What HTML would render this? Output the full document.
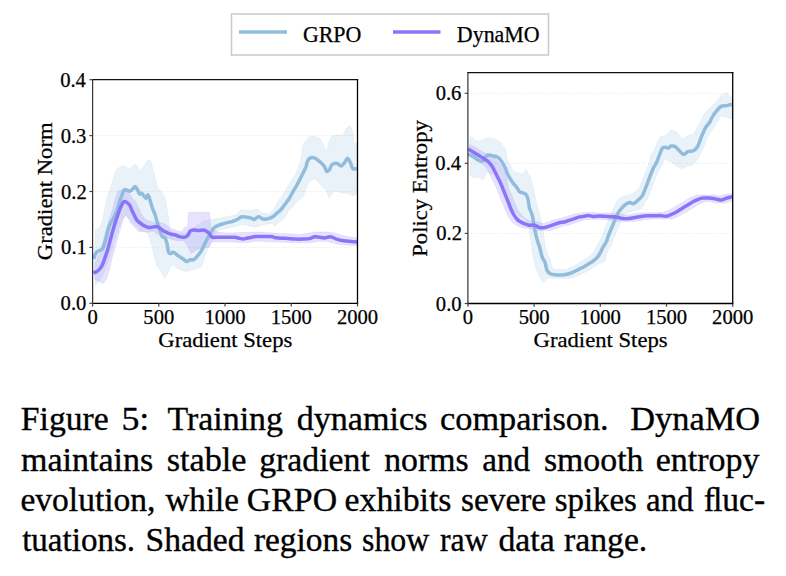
<!DOCTYPE html>
<html><head><meta charset="utf-8"><style>
html,body{margin:0;padding:0;background:#fff;}
body{width:786px;height:576px;position:relative;overflow:hidden;}
svg{position:absolute;left:0;top:0;}
.t{font-family:"Liberation Serif",serif;fill:#000;}
.c{stroke:#000;stroke-width:0.35px;}
.c2{stroke:#000;stroke-width:0.25px;}
</style></head><body>
<svg width="786" height="576" viewBox="0 0 786 576">
<rect x="231.5" y="14" width="317" height="41" fill="#fff" stroke="#cccccc" stroke-width="1.6"/>
<line x1="239" y1="32" x2="287" y2="32" stroke="#91bcdc" stroke-width="3.5"/>
<text x="302.90" y="41.80" font-size="22.6" textLength="58.50" lengthAdjust="spacingAndGlyphs" class="t c2">GRPO</text>
<line x1="393" y1="32" x2="440.5" y2="32" stroke="#8974fa" stroke-width="3.5"/>
<text x="456.87" y="41.80" font-size="22.6" textLength="82.83" lengthAdjust="spacingAndGlyphs" class="t c2">DynaMO</text>
<clipPath id="cl"><rect x="92.6" y="79.7" width="264.9" height="223.60000000000002"/></clipPath>
<line x1="92.6" y1="247.40" x2="357.5" y2="247.40" stroke="#e8e8e8" stroke-width="1" stroke-dasharray="1.2,1.8"/>
<line x1="92.6" y1="191.50" x2="357.5" y2="191.50" stroke="#e8e8e8" stroke-width="1" stroke-dasharray="1.2,1.8"/>
<line x1="92.6" y1="135.60" x2="357.5" y2="135.60" stroke="#e8e8e8" stroke-width="1" stroke-dasharray="1.2,1.8"/>
<g clip-path="url(#cl)">
<path d="M95.2,230.1 L96.2,229.6 L97.2,229.1 L98.2,228.6 L99.2,228.1 L100.2,225.6 L101.2,222.9 L102.2,220.2 L103.2,216.7 L104.2,211.5 L105.2,206.2 L106.2,201.0 L107.2,197.1 L108.2,194.0 L109.2,191.0 L110.2,188.0 L111.2,184.9 L112.2,181.9 L113.2,178.9 L114.2,176.0 L115.2,173.0 L116.2,170.0 L117.2,169.0 L118.2,168.2 L119.2,167.4 L120.2,166.8 L121.2,166.6 L122.2,166.5 L123.2,166.3 L124.2,166.2 L125.2,166.4 L126.2,167.1 L127.2,167.9 L128.2,168.6 L129.2,169.3 L130.2,169.1 L131.2,168.0 L132.2,166.9 L133.2,165.8 L134.2,164.7 L135.2,164.5 L136.2,164.7 L137.2,165.5 L138.2,168.5 L139.2,171.6 L140.2,171.1 L141.2,169.8 L142.2,168.4 L143.2,167.0 L144.2,165.3 L145.2,163.7 L146.2,162.0 L147.2,161.0 L148.2,160.7 L149.2,160.4 L150.2,160.0 L151.2,163.0 L152.2,166.3 L153.2,169.6 L154.2,173.1 L155.2,177.8 L156.2,182.5 L157.2,187.1 L158.2,189.1 L159.2,189.1 L160.2,189.7 L161.2,191.2 L162.2,192.7 L163.2,194.2 L164.2,195.7 L165.2,199.1 L166.2,204.4 L167.2,209.6 L168.2,214.9 L169.2,225.6 L170.2,230.8 L171.2,231.3 L172.2,231.8 L173.2,232.3 L174.2,232.8 L175.2,232.9 L176.2,232.9 L177.2,232.9 L178.2,232.9 L179.2,232.9 L180.2,232.9 L181.2,232.9 L182.2,232.9 L183.2,232.9 L184.2,232.9 L185.2,232.9 L186.2,232.9 L187.2,232.5 L188.2,231.8 L189.2,231.0 L190.2,230.3 L191.2,229.6 L192.2,228.9 L193.2,228.2 L194.2,227.5 L195.2,226.8 L196.2,226.1 L197.2,225.4 L198.2,224.6 L199.2,223.9 L200.2,223.2 L201.2,222.5 L202.2,221.8 L203.2,221.1 L204.2,220.7 L205.2,220.5 L206.2,220.4 L207.2,220.2 L208.2,220.0 L209.2,219.9 L210.2,219.7 L211.2,219.6 L212.2,219.4 L213.2,219.3 L214.2,219.1 L215.2,219.0 L216.2,218.8 L217.2,218.6 L218.2,218.4 L219.2,218.2 L220.2,218.0 L221.2,217.8 L222.2,217.6 L223.2,217.4 L224.2,217.2 L225.2,217.0 L226.2,216.8 L227.2,216.6 L228.2,216.4 L229.2,216.2 L230.2,216.0 L231.2,215.8 L232.2,215.6 L233.2,215.4 L234.2,215.2 L235.2,215.0 L236.2,214.7 L237.2,214.1 L238.2,213.3 L239.2,211.9 L240.2,210.5 L241.2,209.7 L242.2,209.8 L243.2,209.9 L244.2,210.0 L245.2,210.0 L246.2,210.1 L247.2,210.2 L248.2,210.3 L249.2,210.4 L250.2,210.4 L251.2,210.5 L252.2,210.6 L253.2,210.3 L254.2,210.0 L255.2,209.6 L256.2,209.3 L257.2,209.0 L258.2,209.4 L259.2,210.5 L260.2,211.6 L261.2,212.7 L262.2,212.9 L263.2,213.0 L264.2,213.2 L265.2,213.3 L266.2,213.4 L267.2,213.5 L268.2,213.7 L269.2,213.4 L270.2,212.6 L271.2,211.7 L272.2,210.8 L273.2,209.9 L274.2,209.0 L275.2,206.8 L276.2,204.6 L277.2,202.3 L278.2,200.9 L279.2,199.6 L280.2,198.3 L281.2,197.0 L282.2,195.7 L283.2,194.1 L284.2,192.5 L285.2,190.9 L286.2,189.2 L287.2,187.5 L288.2,185.8 L289.2,184.2 L290.2,182.5 L291.2,180.8 L292.2,179.3 L293.2,177.8 L294.2,176.4 L295.2,174.9 L296.2,172.7 L297.2,170.4 L298.2,168.0 L299.2,165.5 L300.2,163.0 L301.2,158.0 L302.2,151.2 L303.2,144.5 L304.2,142.7 L305.2,141.4 L306.2,140.2 L307.2,138.9 L308.2,137.7 L309.2,137.1 L310.2,136.9 L311.2,136.6 L312.2,136.4 L313.2,136.1 L314.2,136.2 L315.2,136.6 L316.2,137.0 L317.2,137.4 L318.2,137.8 L319.2,138.2 L320.2,138.6 L321.2,140.6 L322.2,142.6 L323.2,144.6 L324.2,146.6 L325.2,148.6 L326.2,150.7 L327.2,149.7 L328.2,145.6 L329.2,141.6 L330.2,139.5 L331.2,137.5 L332.2,136.0 L333.2,135.8 L334.2,135.6 L335.2,135.4 L336.2,135.2 L337.2,135.0 L338.2,134.8 L339.2,134.9 L340.2,135.3 L341.2,135.6 L342.2,135.9 L343.2,134.4 L344.2,132.4 L345.2,130.4 L346.2,128.4 L347.2,127.6 L348.2,126.9 L349.2,126.3 L350.2,125.6 L351.2,127.6 L352.2,129.6 L353.2,134.8 L354.2,143.8 L355.2,143.4 L356.2,143.0 L357.2,142.6 L357.2,193.5 L356.2,194.0 L355.2,194.6 L354.2,195.1 L353.2,195.7 L352.2,195.6 L351.2,195.1 L350.2,194.6 L349.2,194.1 L348.2,193.6 L347.2,193.3 L346.2,193.3 L345.2,193.3 L344.2,193.3 L343.2,193.3 L342.2,193.2 L341.2,192.9 L340.2,192.6 L339.2,192.2 L338.2,191.9 L337.2,191.6 L336.2,191.2 L335.2,190.9 L334.2,191.3 L333.2,192.8 L332.2,194.2 L331.2,195.7 L330.2,197.2 L329.2,198.3 L328.2,195.8 L327.2,193.4 L326.2,191.0 L325.2,188.6 L324.2,187.8 L323.2,187.4 L322.2,186.7 L321.2,185.5 L320.2,184.3 L319.2,183.0 L318.2,181.8 L317.2,180.8 L316.2,179.8 L315.2,178.8 L314.2,179.1 L313.2,179.4 L312.2,179.8 L311.2,180.1 L310.2,180.4 L309.2,180.7 L308.2,183.4 L307.2,186.5 L306.2,188.9 L305.2,191.3 L304.2,193.5 L303.2,195.5 L302.2,197.5 L301.2,198.8 L300.2,199.4 L299.2,200.0 L298.2,200.7 L297.2,201.3 L296.2,202.2 L295.2,203.8 L294.2,205.4 L293.2,207.0 L292.2,207.7 L291.2,208.5 L290.2,209.2 L289.2,210.0 L288.2,211.7 L287.2,213.5 L286.2,215.2 L285.2,217.0 L284.2,218.0 L283.2,218.9 L282.2,219.8 L281.2,220.6 L280.2,221.3 L279.2,222.1 L278.2,222.8 L277.2,223.7 L276.2,225.2 L275.2,225.9 L274.2,225.1 L273.2,224.4 L272.2,223.6 L271.2,223.6 L270.2,223.7 L269.2,223.8 L268.2,223.9 L267.2,224.0 L266.2,224.2 L265.2,224.3 L264.2,224.4 L263.2,224.6 L262.2,224.9 L261.2,225.2 L260.2,225.6 L259.2,225.9 L258.2,226.2 L257.2,226.5 L256.2,226.8 L255.2,227.1 L254.2,226.9 L253.2,226.7 L252.2,226.5 L251.2,226.3 L250.2,226.1 L249.2,225.9 L248.2,225.7 L247.2,225.5 L246.2,225.3 L245.2,225.1 L244.2,224.9 L243.2,224.7 L242.2,224.5 L241.2,224.6 L240.2,225.0 L239.2,225.4 L238.2,225.8 L237.2,226.2 L236.2,226.4 L235.2,226.6 L234.2,226.8 L233.2,227.0 L232.2,227.2 L231.2,227.4 L230.2,227.6 L229.2,227.8 L228.2,228.0 L227.2,228.2 L226.2,228.4 L225.2,228.5 L224.2,228.7 L223.2,229.0 L222.2,229.3 L221.2,229.6 L220.2,229.9 L219.2,230.2 L218.2,231.0 L217.2,232.2 L216.2,233.4 L215.2,235.0 L214.2,236.7 L213.2,238.4 L212.2,240.2 L211.2,242.2 L210.2,244.1 L209.2,246.1 L208.2,248.1 L207.2,250.4 L206.2,253.2 L205.2,255.9 L204.2,258.7 L203.2,261.5 L202.2,264.2 L201.2,267.0 L200.2,267.3 L199.2,267.7 L198.2,268.0 L197.2,268.3 L196.2,268.6 L195.2,269.0 L194.2,269.3 L193.2,269.6 L192.2,270.0 L191.2,270.3 L190.2,270.6 L189.2,270.9 L188.2,271.3 L187.2,271.6 L186.2,271.7 L185.2,271.3 L184.2,271.0 L183.2,270.7 L182.2,270.4 L181.2,270.0 L180.2,269.7 L179.2,269.3 L178.2,268.7 L177.2,268.0 L176.2,267.3 L175.2,266.6 L174.2,266.0 L173.2,265.3 L172.2,264.6 L171.2,266.1 L170.2,268.1 L169.2,270.2 L168.2,272.2 L167.2,274.2 L166.2,276.2 L165.2,278.1 L164.2,278.1 L163.2,276.1 L162.2,274.0 L161.2,272.0 L160.2,270.0 L159.2,268.5 L158.2,267.2 L157.2,265.9 L156.2,263.8 L155.2,259.8 L154.2,255.8 L153.2,251.8 L152.2,248.1 L151.2,244.4 L150.2,240.7 L149.2,237.6 L148.2,234.6 L147.2,232.9 L146.2,232.6 L145.2,232.2 L144.2,231.8 L143.2,231.5 L142.2,231.1 L141.2,230.7 L140.2,230.1 L139.2,229.1 L138.2,228.1 L137.2,227.1 L136.2,226.1 L135.2,225.1 L134.2,224.1 L133.2,223.1 L132.2,222.1 L131.2,221.1 L130.2,220.1 L129.2,219.1 L128.2,218.1 L127.2,217.1 L126.2,216.1 L125.2,216.4 L124.2,217.1 L123.2,217.8 L122.2,218.8 L121.2,221.4 L120.2,224.1 L119.2,226.7 L118.2,229.5 L117.2,232.6 L116.2,235.6 L115.2,238.6 L114.2,241.7 L113.2,245.0 L112.2,248.5 L111.2,252.0 L110.2,255.5 L109.2,259.0 L108.2,261.7 L107.2,264.2 L106.2,266.8 L105.2,269.3 L104.2,271.8 L103.2,273.8 L102.2,275.8 L101.2,277.7 L100.2,279.7 L99.2,281.6 L98.2,282.6 L97.2,283.6 L96.2,284.6 L95.2,285.6 Z" fill="#91bcdc" fill-opacity="0.2" stroke="#91bcdc" stroke-opacity="0.15" stroke-width="0.8"/>
<path d="M94.6,261.9 L95.6,260.9 L96.6,259.9 L97.6,258.0 L98.6,255.3 L99.6,252.4 L100.6,249.4 L101.6,246.4 L102.6,242.7 L103.6,239.0 L104.6,235.3 L105.6,231.7 L106.6,228.0 L107.6,224.6 L108.6,221.3 L109.6,218.0 L110.6,215.0 L111.6,212.0 L112.6,208.9 L113.6,205.0 L114.6,201.4 L115.6,198.0 L116.6,194.7 L117.6,191.6 L118.6,191.1 L119.6,190.6 L120.6,190.1 L121.6,189.6 L122.6,189.3 L123.6,189.8 L124.6,190.3 L125.6,190.8 L126.6,191.3 L127.6,191.9 L128.6,192.8 L129.6,193.7 L130.6,195.1 L131.6,196.9 L132.6,198.8 L133.6,199.7 L134.6,200.5 L135.6,201.8 L136.6,203.7 L137.6,206.1 L138.6,208.3 L139.6,210.3 L140.6,212.3 L141.6,214.3 L142.6,216.3 L143.6,217.3 L144.6,218.3 L145.6,219.1 L146.6,219.8 L147.6,220.6 L148.6,221.0 L149.6,221.3 L150.6,221.6 L151.6,221.9 L152.6,222.1 L153.6,222.2 L154.6,222.3 L155.6,222.4 L156.6,222.5 L157.6,222.6 L158.6,222.7 L159.6,222.8 L160.6,223.0 L161.6,223.0 L162.6,223.0 L163.6,223.5 L164.6,224.0 L165.6,224.5 L166.6,225.2 L167.6,226.0 L168.6,226.7 L169.6,227.3 L170.6,227.9 L171.6,228.5 L172.6,228.9 L173.6,229.3 L174.6,229.7 L175.6,230.1 L176.6,230.5 L177.6,230.8 L178.6,231.0 L179.6,231.2 L180.6,231.3 L181.6,231.6 L182.6,230.4 L183.6,228.6 L184.6,227.4 L185.6,227.1 L186.6,226.9 L187.6,226.6 L188.6,212.3 L189.6,212.3 L190.6,212.3 L191.6,212.3 L192.6,212.3 L193.6,212.3 L194.6,212.3 L195.6,212.3 L196.6,212.3 L197.6,212.3 L198.6,212.3 L199.6,212.3 L200.6,212.3 L201.6,212.3 L202.6,212.3 L203.6,212.3 L204.6,212.3 L205.6,212.3 L206.6,212.3 L207.6,212.3 L208.6,212.3 L209.6,212.3 L210.6,225.9 L211.6,227.4 L212.6,227.9 L213.6,228.5 L214.6,229.5 L215.6,230.5 L216.6,231.8 L217.6,232.3 L218.6,232.4 L219.6,232.5 L220.6,232.5 L221.6,232.6 L222.6,232.6 L223.6,232.7 L224.6,232.7 L225.6,232.8 L226.6,232.8 L227.6,232.9 L228.6,232.9 L229.6,233.0 L230.6,233.0 L231.6,232.9 L232.6,232.9 L233.6,232.9 L234.6,232.8 L235.6,232.8 L236.6,232.7 L237.6,232.7 L238.6,232.7 L239.6,232.6 L240.6,232.6 L241.6,232.6 L242.6,232.5 L243.6,232.5 L244.6,232.4 L245.6,232.4 L246.6,232.4 L247.6,232.3 L248.6,232.3 L249.6,232.2 L250.6,232.2 L251.6,232.2 L252.6,232.1 L253.6,232.1 L254.6,232.1 L255.6,232.0 L256.6,232.0 L257.6,232.1 L258.6,232.1 L259.6,232.2 L260.6,232.2 L261.6,232.3 L262.6,232.3 L263.6,232.4 L264.6,232.5 L265.6,232.5 L266.6,232.6 L267.6,232.6 L268.6,232.7 L269.6,232.7 L270.6,232.8 L271.6,232.8 L272.6,232.9 L273.6,232.9 L274.6,233.0 L275.6,233.0 L276.6,233.1 L277.6,233.2 L278.6,233.2 L279.6,233.3 L280.6,233.3 L281.6,233.4 L282.6,233.5 L283.6,233.5 L284.6,233.6 L285.6,233.6 L286.6,233.7 L287.6,233.8 L288.6,233.8 L289.6,233.9 L290.6,233.9 L291.6,234.0 L292.6,234.1 L293.6,234.1 L294.6,234.2 L295.6,234.2 L296.6,234.3 L297.6,234.4 L298.6,234.4 L299.6,234.5 L300.6,234.4 L301.6,234.2 L302.6,234.1 L303.6,233.9 L304.6,233.7 L305.6,233.6 L306.6,233.4 L307.6,233.2 L308.6,233.1 L309.6,232.9 L310.6,232.7 L311.6,232.6 L312.6,232.4 L313.6,232.2 L314.6,232.1 L315.6,232.0 L316.6,232.0 L317.6,232.0 L318.6,232.0 L319.6,232.0 L320.6,232.0 L321.6,232.0 L322.6,232.0 L323.6,232.0 L324.6,232.0 L325.6,232.0 L326.6,232.0 L327.6,232.0 L328.6,232.0 L329.6,232.0 L330.6,232.2 L331.6,232.4 L332.6,232.7 L333.6,233.0 L334.6,233.2 L335.6,233.2 L336.6,233.2 L337.6,233.6 L338.6,234.0 L339.6,234.4 L340.6,234.8 L341.6,235.1 L342.6,235.4 L343.6,235.6 L344.6,235.9 L345.6,236.1 L346.6,236.3 L347.6,236.4 L348.6,236.6 L349.6,236.7 L350.6,236.9 L351.6,237.1 L352.6,237.2 L353.6,237.4 L354.6,237.5 L355.6,237.7 L356.6,237.9 L356.6,245.9 L355.6,245.7 L354.6,245.5 L353.6,245.5 L352.6,245.5 L351.6,245.5 L350.6,245.4 L349.6,245.3 L348.6,245.3 L347.6,245.2 L346.6,245.1 L345.6,245.0 L344.6,244.9 L343.6,244.8 L342.6,244.8 L341.6,244.7 L340.6,244.6 L339.6,244.5 L338.6,244.4 L337.6,244.2 L336.6,244.0 L335.6,243.8 L334.6,243.5 L333.6,243.3 L332.6,243.1 L331.6,242.8 L330.6,242.6 L329.6,242.2 L328.6,241.8 L327.6,241.4 L326.6,241.4 L325.6,241.4 L324.6,241.4 L323.6,241.4 L322.6,241.4 L321.6,241.4 L320.6,241.4 L319.6,241.4 L318.6,241.4 L317.6,241.4 L316.6,241.8 L315.6,242.1 L314.6,242.2 L313.6,242.3 L312.6,242.3 L311.6,242.4 L310.6,242.5 L309.6,242.5 L308.6,242.6 L307.6,242.6 L306.6,242.6 L305.6,242.6 L304.6,242.6 L303.6,242.6 L302.6,242.7 L301.6,242.8 L300.6,242.9 L299.6,243.0 L298.6,242.9 L297.6,242.9 L296.6,242.9 L295.6,242.8 L294.6,242.8 L293.6,242.7 L292.6,242.7 L291.6,242.7 L290.6,242.6 L289.6,242.6 L288.6,242.5 L287.6,242.5 L286.6,242.5 L285.6,242.4 L284.6,242.4 L283.6,242.3 L282.6,242.3 L281.6,242.3 L280.6,242.2 L279.6,242.2 L278.6,242.1 L277.6,242.1 L276.6,242.1 L275.6,242.0 L274.6,242.0 L273.6,241.9 L272.6,241.9 L271.6,241.8 L270.6,241.8 L269.6,241.7 L268.6,241.7 L267.6,241.6 L266.6,241.6 L265.6,241.5 L264.6,241.5 L263.6,241.4 L262.6,241.3 L261.6,241.3 L260.6,241.2 L259.6,241.2 L258.6,241.1 L257.6,241.1 L256.6,241.0 L255.6,241.2 L254.6,241.4 L253.6,241.6 L252.6,241.8 L251.6,242.0 L250.6,242.2 L249.6,242.4 L248.6,242.4 L247.6,242.4 L246.6,242.4 L245.6,242.4 L244.6,242.4 L243.6,242.4 L242.6,242.4 L241.6,242.4 L240.6,242.4 L239.6,242.4 L238.6,242.4 L237.6,242.4 L236.6,242.4 L235.6,242.2 L234.6,242.0 L233.6,241.9 L232.6,241.9 L231.6,241.9 L230.6,242.0 L229.6,242.0 L228.6,242.0 L227.6,242.0 L226.6,242.0 L225.6,242.0 L224.6,242.0 L223.6,242.0 L222.6,242.0 L221.6,242.0 L220.6,242.0 L219.6,242.0 L218.6,242.0 L217.6,242.0 L216.6,242.0 L215.6,242.0 L214.6,242.0 L213.6,242.0 L212.6,242.0 L211.6,242.0 L210.6,243.5 L209.6,247.0 L208.6,247.2 L207.6,247.4 L206.6,247.5 L205.6,247.7 L204.6,247.9 L203.6,248.0 L202.6,248.2 L201.6,248.4 L200.6,248.6 L199.6,248.7 L198.6,248.9 L197.6,249.3 L196.6,249.9 L195.6,250.6 L194.6,251.2 L193.6,251.9 L192.6,252.5 L191.6,253.2 L190.6,252.6 L189.6,250.3 L188.6,247.9 L187.6,245.7 L186.6,244.4 L185.6,243.1 L184.6,241.8 L183.6,240.9 L182.6,240.7 L181.6,240.7 L180.6,240.7 L179.6,240.7 L178.6,240.7 L177.6,240.7 L176.6,240.6 L175.6,240.4 L174.6,240.3 L173.6,240.1 L172.6,239.8 L171.6,239.4 L170.6,239.0 L169.6,238.6 L168.6,238.3 L167.6,238.2 L166.6,238.0 L165.6,237.8 L164.6,237.5 L163.6,237.1 L162.6,236.7 L161.6,236.3 L160.6,235.9 L159.6,235.5 L158.6,234.9 L157.6,234.3 L156.6,233.7 L155.6,233.0 L154.6,232.2 L153.6,231.5 L152.6,231.2 L151.6,231.4 L150.6,231.7 L149.6,231.9 L148.6,232.2 L147.6,232.4 L146.6,232.1 L145.6,231.8 L144.6,231.6 L143.6,231.6 L142.6,231.6 L141.6,231.6 L140.6,231.6 L139.6,231.6 L138.6,231.4 L137.6,230.4 L136.6,229.4 L135.6,228.4 L134.6,227.4 L133.6,226.1 L132.6,225.3 L131.6,224.3 L130.6,223.3 L129.6,221.3 L128.6,219.3 L127.6,217.3 L126.6,215.7 L125.6,215.4 L124.6,216.2 L123.6,219.0 L122.6,222.0 L121.6,225.0 L120.6,228.3 L119.6,231.6 L118.6,235.0 L117.6,238.7 L116.6,242.3 L115.6,246.0 L114.6,249.7 L113.6,253.4 L112.6,256.4 L111.6,260.5 L110.6,265.2 L109.6,269.0 L108.6,272.4 L107.6,275.7 L106.6,279.1 L105.6,280.4 L104.6,281.7 L103.6,283.1 L102.6,283.8 L101.6,283.1 L100.6,282.4 L99.6,281.7 L98.6,281.2 L97.6,280.7 L96.6,280.2 L95.6,279.7 L94.6,279.2 Z" fill="#8974fa" fill-opacity="0.2" stroke="#8974fa" stroke-opacity="0.15" stroke-width="0.8"/>
<path d="M93.5,259.0 C94.0,257.9 95.4,253.9 96.3,252.5 C97.2,251.1 97.9,251.4 98.9,250.8 C99.9,250.2 101.4,250.4 102.4,249.0 C103.4,247.6 104.1,245.0 105.0,242.1 C105.9,239.2 106.7,234.7 107.6,231.7 C108.5,228.7 109.3,225.9 110.2,223.9 C111.1,221.9 111.9,221.1 112.8,219.5 C113.7,217.9 114.5,216.3 115.4,214.3 C116.3,212.3 117.1,210.0 118.0,207.4 C118.9,204.8 119.7,201.3 120.6,198.7 C121.5,196.1 122.6,193.2 123.3,191.7 C124.0,190.2 124.3,189.7 125.0,189.5 C125.7,189.3 126.4,190.1 127.2,190.4 C128.0,190.7 129.0,191.4 130.0,191.1 C131.0,190.8 132.1,189.6 133.0,188.8 C133.9,188.1 134.5,186.5 135.2,186.6 C135.9,186.7 136.7,188.4 137.4,189.6 C138.1,190.8 138.9,193.4 139.6,194.0 C140.3,194.6 141.1,192.9 141.8,193.3 C142.5,193.7 143.3,195.3 144.0,196.2 C144.7,197.0 145.6,198.7 146.2,198.4 C146.8,198.2 147.2,194.8 147.7,194.7 C148.2,194.6 148.7,196.5 149.2,197.7 C149.7,198.9 150.1,200.5 150.6,202.1 C151.1,203.7 151.6,205.8 152.1,207.3 C152.6,208.8 153.1,209.8 153.6,211.0 C154.1,212.2 154.6,213.2 155.1,214.7 C155.6,216.2 156.0,218.2 156.5,219.8 C157.0,221.4 157.5,222.7 158.0,224.2 C158.5,225.7 159.0,227.2 159.5,228.7 C160.0,230.2 160.5,231.8 161.0,233.1 C161.5,234.4 161.8,236.1 162.4,236.8 C163.0,237.5 164.1,236.9 164.7,237.5 C165.3,238.1 165.6,239.0 166.1,240.5 C166.6,242.0 167.2,244.4 167.6,246.4 C168.0,248.4 168.1,251.1 168.6,252.3 C169.1,253.5 169.9,253.7 170.6,253.7 C171.3,253.7 172.1,252.4 172.8,252.3 C173.5,252.2 174.3,252.6 175.0,253.0 C175.7,253.4 176.0,254.1 176.9,254.8 C177.8,255.5 179.3,256.4 180.5,257.2 C181.7,258.0 183.2,259.0 184.2,259.7 C185.2,260.4 185.6,261.6 186.6,261.6 C187.6,261.6 189.0,260.0 190.2,259.7 C191.4,259.4 192.7,260.3 193.9,259.7 C195.1,259.1 196.3,257.4 197.5,256.0 C198.7,254.6 200.0,253.2 201.2,251.2 C202.4,249.2 203.6,246.3 204.8,243.9 C206.0,241.5 207.3,238.8 208.5,236.6 C209.7,234.4 211.0,232.1 212.1,230.5 C213.2,228.9 213.0,228.2 215.0,227.0 C217.0,225.8 220.9,224.4 223.9,223.5 C226.9,222.6 230.4,222.1 232.8,221.3 C235.2,220.6 236.7,219.8 238.2,219.0 C239.7,218.2 240.2,217.1 241.7,216.8 C243.2,216.5 245.3,217.0 247.1,217.3 C248.9,217.6 251.2,218.2 252.4,218.6 C253.6,219.0 253.2,219.8 254.2,219.5 C255.2,219.2 257.1,216.9 258.6,216.8 C260.1,216.7 261.5,218.7 263.1,219.0 C264.7,219.3 266.8,219.0 268.4,218.6 C270.0,218.2 271.4,217.8 272.9,216.8 C274.4,215.8 276.0,214.0 277.3,212.8 C278.6,211.6 279.6,211.1 280.9,209.7 C282.2,208.3 283.6,206.2 285.0,204.3 C286.4,202.4 287.8,200.7 289.2,198.5 C290.6,196.3 291.9,193.6 293.3,191.2 C294.7,188.8 296.1,186.6 297.5,184.0 C298.9,181.4 300.3,178.4 301.7,175.6 C303.1,172.8 304.9,169.6 305.8,167.3 C306.7,165.1 306.5,163.6 307.2,162.1 C307.9,160.6 308.5,158.8 309.8,158.2 C311.1,157.5 313.3,157.5 315.0,158.2 C316.7,158.8 318.7,160.8 320.2,162.1 C321.7,163.4 323.0,164.5 324.1,166.0 C325.2,167.5 325.8,170.5 326.7,171.2 C327.6,171.8 328.4,171.0 329.3,169.9 C330.2,168.8 330.7,165.8 332.0,164.7 C333.3,163.6 335.7,163.2 337.2,163.4 C338.7,163.6 339.8,166.2 341.1,166.0 C342.4,165.8 343.9,163.4 345.0,162.1 C346.1,160.8 346.7,158.2 347.6,158.2 C348.5,158.2 349.3,160.4 350.2,162.1 C351.1,163.8 351.6,167.5 352.8,168.6 C354.0,169.7 356.7,168.6 357.5,168.6" fill="none" stroke="#91bcdc" stroke-width="3.5" stroke-linejoin="round" stroke-linecap="butt"/>
<path d="M93.5,273.2 C94.1,272.9 96.2,272.0 97.2,271.3 C98.2,270.6 98.9,270.1 99.8,269.0 C100.7,267.9 101.5,266.6 102.4,264.7 C103.3,262.8 104.1,260.2 105.0,257.7 C105.9,255.2 106.7,252.8 107.6,249.9 C108.5,247.0 109.3,243.5 110.2,240.3 C111.1,237.1 111.9,233.8 112.8,230.8 C113.7,227.8 114.5,224.8 115.4,222.1 C116.3,219.3 117.1,216.8 118.0,214.3 C118.9,211.9 119.7,209.4 120.6,207.4 C121.5,205.4 122.4,203.1 123.3,202.2 C124.2,201.3 125.0,201.5 125.9,201.8 C126.8,202.1 127.8,203.2 128.5,203.9 C129.2,204.6 129.4,204.6 130.0,205.8 C130.6,207.0 131.5,209.4 132.2,211.0 C132.9,212.6 133.7,213.9 134.4,215.4 C135.1,216.9 135.9,218.7 136.6,219.8 C137.3,220.9 137.9,221.3 138.8,222.0 C139.7,222.7 140.8,223.5 141.8,224.2 C142.8,224.9 143.7,225.5 144.7,226.0 C145.7,226.5 146.7,226.9 147.7,227.2 C148.7,227.4 149.6,227.6 150.6,227.5 C151.6,227.4 152.6,227.1 153.6,226.9 C154.6,226.7 155.5,226.3 156.5,226.5 C157.5,226.7 158.5,227.3 159.5,227.9 C160.5,228.5 161.4,229.4 162.4,230.1 C163.4,230.8 164.4,231.4 165.4,231.9 C166.4,232.4 167.3,232.7 168.3,233.1 C169.3,233.5 170.2,234.0 171.3,234.3 C172.4,234.6 173.7,234.5 175.0,234.9 C176.3,235.3 177.8,236.2 179.3,236.6 C180.8,237.0 182.8,237.5 184.2,237.3 C185.6,237.1 186.8,236.5 187.8,235.4 C188.8,234.3 189.2,231.9 190.2,231.0 C191.2,230.1 192.5,230.1 193.9,230.0 C195.3,229.9 197.2,230.5 198.8,230.5 C200.4,230.5 202.2,229.8 203.6,230.0 C205.0,230.2 206.3,231.0 207.3,231.7 C208.3,232.4 208.9,233.2 209.7,234.1 C210.5,235.0 211.1,236.8 212.1,237.3 C213.1,237.8 213.3,237.3 215.8,237.3 C218.3,237.3 224.2,237.3 227.3,237.3 C230.4,237.3 232.6,237.1 234.6,237.3 C236.6,237.5 238.0,238.0 239.4,238.3 C240.8,238.6 241.9,239.0 243.1,239.0 C244.3,239.0 245.3,238.6 246.7,238.3 C248.1,238.0 250.0,237.6 251.6,237.3 C253.2,237.0 253.3,236.7 256.5,236.6 C259.7,236.5 267.8,236.4 271.0,236.6 C274.2,236.8 273.5,237.5 275.9,237.8 C278.3,238.1 282.4,238.1 285.6,238.3 C288.8,238.5 292.5,239.0 295.3,239.1 C298.1,239.2 300.2,239.2 302.6,239.1 C305.0,239.0 307.9,239.0 309.9,238.6 C311.9,238.2 313.1,236.9 314.7,236.7 C316.3,236.5 318.0,237.0 319.6,237.2 C321.2,237.4 322.7,238.0 324.5,237.9 C326.3,237.8 328.5,236.5 330.5,236.7 C332.5,236.9 334.4,238.4 336.6,239.1 C338.8,239.8 341.5,240.4 343.9,240.8 C346.3,241.2 348.9,241.3 351.2,241.5 C353.5,241.7 356.4,241.9 357.5,242.0" fill="none" stroke="#8974fa" stroke-width="3.5" stroke-linejoin="round" stroke-linecap="butt"/>
</g>
<line x1="92.6" y1="79.7" x2="357.5" y2="79.7" stroke="#111" stroke-width="1.25" stroke-linecap="square"/>
<line x1="92.6" y1="303.3" x2="357.5" y2="303.3" stroke="#000" stroke-width="1.3" stroke-linecap="square"/>
<line x1="357.5" y1="79.7" x2="357.5" y2="303.3" stroke="#000" stroke-width="1.3" stroke-linecap="square"/>
<line x1="92.6" y1="79.7" x2="92.6" y2="303.3" stroke="#333" stroke-width="1.2" stroke-linecap="square"/>
<line x1="89.39999999999999" y1="303.30" x2="92.6" y2="303.30" stroke="#444" stroke-width="1.2"/>
<text x="60.63" y="310.30" font-size="20" textLength="25.75" lengthAdjust="spacingAndGlyphs" class="t c2">0.0</text>
<line x1="89.39999999999999" y1="247.40" x2="92.6" y2="247.40" stroke="#444" stroke-width="1.2"/>
<text x="61.09" y="254.40" font-size="20" textLength="25.75" lengthAdjust="spacingAndGlyphs" class="t c2">0.1</text>
<line x1="89.39999999999999" y1="191.50" x2="92.6" y2="191.50" stroke="#444" stroke-width="1.2"/>
<text x="60.99" y="198.50" font-size="20" textLength="25.75" lengthAdjust="spacingAndGlyphs" class="t c2">0.2</text>
<line x1="89.39999999999999" y1="135.60" x2="92.6" y2="135.60" stroke="#444" stroke-width="1.2"/>
<text x="60.65" y="142.60" font-size="20" textLength="25.75" lengthAdjust="spacingAndGlyphs" class="t c2">0.3</text>
<line x1="89.39999999999999" y1="79.70" x2="92.6" y2="79.70" stroke="#444" stroke-width="1.2"/>
<text x="60.17" y="86.70" font-size="20" textLength="25.75" lengthAdjust="spacingAndGlyphs" class="t c2">0.4</text>
<line x1="92.60" y1="303.3" x2="92.60" y2="306.5" stroke="#444" stroke-width="1.2"/>
<text x="87.45" y="323.80" font-size="20" textLength="10.30" lengthAdjust="spacingAndGlyphs" class="t c2">0</text>
<line x1="158.82" y1="303.3" x2="158.82" y2="306.5" stroke="#444" stroke-width="1.2"/>
<text x="143.38" y="323.80" font-size="20" textLength="30.90" lengthAdjust="spacingAndGlyphs" class="t c2">500</text>
<line x1="225.05" y1="303.3" x2="225.05" y2="306.5" stroke="#444" stroke-width="1.2"/>
<text x="204.45" y="323.80" font-size="20" textLength="41.20" lengthAdjust="spacingAndGlyphs" class="t c2">1000</text>
<line x1="291.27" y1="303.3" x2="291.27" y2="306.5" stroke="#444" stroke-width="1.2"/>
<text x="270.67" y="323.80" font-size="20" textLength="41.20" lengthAdjust="spacingAndGlyphs" class="t c2">1500</text>
<line x1="357.50" y1="303.3" x2="357.50" y2="306.5" stroke="#444" stroke-width="1.2"/>
<text x="336.90" y="323.80" font-size="20" textLength="41.20" lengthAdjust="spacingAndGlyphs" class="t c2">2000</text>
<text x="158.28" y="347.20" font-size="22" textLength="134.05" lengthAdjust="spacingAndGlyphs" class="t c2">Gradient Steps</text>
<text x="0" y="0" font-size="22" textLength="137.81" lengthAdjust="spacingAndGlyphs" transform="translate(51.50,260.19) rotate(-90)" class="t c2">Gradient Norm</text>
<clipPath id="cr"><rect x="467.9" y="72.7" width="264.80000000000007" height="230.8"/></clipPath>
<line x1="467.9" y1="233.43" x2="732.7" y2="233.43" stroke="#e8e8e8" stroke-width="1" stroke-dasharray="1.2,1.8"/>
<line x1="467.9" y1="163.36" x2="732.7" y2="163.36" stroke="#e8e8e8" stroke-width="1" stroke-dasharray="1.2,1.8"/>
<line x1="467.9" y1="93.29" x2="732.7" y2="93.29" stroke="#e8e8e8" stroke-width="1" stroke-dasharray="1.2,1.8"/>
<g clip-path="url(#cr)">
<path d="M470.0,137.3 L471.0,137.1 L472.0,136.9 L473.0,138.1 L474.0,139.9 L475.0,140.5 L476.0,140.6 L477.0,140.7 L478.0,140.8 L479.0,140.9 L480.0,140.7 L481.0,140.3 L482.0,140.0 L483.0,139.6 L484.0,139.2 L485.0,138.8 L486.0,138.6 L487.0,138.3 L488.0,138.0 L489.0,137.8 L490.0,137.9 L491.0,138.1 L492.0,138.2 L493.0,138.3 L494.0,138.6 L495.0,139.0 L496.0,139.4 L497.0,139.8 L498.0,140.5 L499.0,141.4 L500.0,142.3 L501.0,143.1 L502.0,144.3 L503.0,145.7 L504.0,147.0 L505.0,148.7 L506.0,150.8 L507.0,158.8 L508.0,160.5 L509.0,162.2 L510.0,164.0 L511.0,166.1 L512.0,169.2 L513.0,170.9 L514.0,171.5 L515.0,171.9 L516.0,172.2 L517.0,172.6 L518.0,172.9 L519.0,173.2 L520.0,173.6 L521.0,173.9 L522.0,174.3 L523.0,173.1 L524.0,171.8 L525.0,170.4 L526.0,169.1 L527.0,170.1 L528.0,173.6 L529.0,177.0 L530.0,174.6 L531.0,178.7 L532.0,182.7 L533.0,186.8 L534.0,191.0 L535.0,195.6 L536.0,200.2 L537.0,204.8 L538.0,208.6 L539.0,211.9 L540.0,215.3 L541.0,218.9 L542.0,224.8 L543.0,230.7 L544.0,236.6 L545.0,244.7 L546.0,249.0 L547.0,252.9 L548.0,255.2 L549.0,257.0 L550.0,258.8 L551.0,262.8 L552.0,266.7 L553.0,268.0 L554.0,269.0 L555.0,269.4 L556.0,269.4 L557.0,269.4 L558.0,269.4 L559.0,269.4 L560.0,269.4 L561.0,269.4 L562.0,269.4 L563.0,269.4 L564.0,269.4 L565.0,269.4 L566.0,269.4 L567.0,269.2 L568.0,268.8 L569.0,268.2 L570.0,267.8 L571.0,267.2 L572.0,266.8 L573.0,266.2 L574.0,265.8 L575.0,265.2 L576.0,264.8 L577.0,264.2 L578.0,263.7 L579.0,263.1 L580.0,262.4 L581.0,261.6 L582.0,260.9 L583.0,260.3 L584.0,259.7 L585.0,259.1 L586.0,258.5 L587.0,257.9 L588.0,257.1 L589.0,256.3 L590.0,255.5 L591.0,254.7 L592.0,253.9 L593.0,252.7 L594.0,251.2 L595.0,249.7 L596.0,247.8 L597.0,245.8 L598.0,243.8 L599.0,242.0 L600.0,240.3 L601.0,238.6 L602.0,236.4 L603.0,233.3 L604.0,230.8 L605.0,228.4 L606.0,225.9 L607.0,223.5 L608.0,221.1 L609.0,218.7 L610.0,216.3 L611.0,213.9 L612.0,211.5 L613.0,209.5 L614.0,207.5 L615.0,205.5 L616.0,203.6 L617.0,201.6 L618.0,199.6 L619.0,198.5 L620.0,198.0 L621.0,197.5 L622.0,197.0 L623.0,196.5 L624.0,196.0 L625.0,195.7 L626.0,195.4 L627.0,195.2 L628.0,194.9 L629.0,194.7 L630.0,194.4 L631.0,194.2 L632.0,193.9 L633.0,193.1 L634.0,192.4 L635.0,191.7 L636.0,190.9 L637.0,190.2 L638.0,189.5 L639.0,188.3 L640.0,185.9 L641.0,183.3 L642.0,180.7 L643.0,178.1 L644.0,175.5 L645.0,172.9 L646.0,170.3 L647.0,167.9 L648.0,165.5 L649.0,163.3 L650.0,159.3 L651.0,154.6 L652.0,153.2 L653.0,151.7 L654.0,150.2 L655.0,148.3 L656.0,145.7 L657.0,143.1 L658.0,140.8 L659.0,139.1 L660.0,137.4 L661.0,136.6 L662.0,136.4 L663.0,136.1 L664.0,135.9 L665.0,135.7 L666.0,135.2 L667.0,134.2 L668.0,133.2 L669.0,132.1 L670.0,131.1 L671.0,130.1 L672.0,130.2 L673.0,130.5 L674.0,130.7 L675.0,131.0 L676.0,131.2 L677.0,131.9 L678.0,133.4 L679.0,134.9 L680.0,136.4 L681.0,137.9 L682.0,139.4 L683.0,139.1 L684.0,138.4 L685.0,137.6 L686.0,136.9 L687.0,136.2 L688.0,135.5 L689.0,135.3 L690.0,135.0 L691.0,134.8 L692.0,134.5 L693.0,134.3 L694.0,133.0 L695.0,131.2 L696.0,129.5 L697.0,127.7 L698.0,126.0 L699.0,124.2 L700.0,122.2 L701.0,120.2 L702.0,118.1 L703.0,116.1 L704.0,114.1 L705.0,112.7 L706.0,111.7 L707.0,110.7 L708.0,109.8 L709.0,108.8 L710.0,107.8 L711.0,106.8 L712.0,105.8 L713.0,104.8 L714.0,103.8 L715.0,102.8 L716.0,101.7 L717.0,100.4 L718.0,99.2 L719.0,97.9 L720.0,96.7 L721.0,95.4 L722.0,94.9 L723.0,94.4 L724.0,93.9 L725.0,93.4 L726.0,92.9 L727.0,92.8 L728.0,93.8 L729.0,94.9 L730.0,95.9 L731.0,96.8 L732.0,97.5 L732.0,119.0 L731.0,118.9 L730.0,118.6 L729.0,118.3 L728.0,117.9 L727.0,117.6 L726.0,117.3 L725.0,117.1 L724.0,116.8 L723.0,116.6 L722.0,116.3 L721.0,116.3 L720.0,117.8 L719.0,119.3 L718.0,120.8 L717.0,122.3 L716.0,123.8 L715.0,125.3 L714.0,126.8 L713.0,128.3 L712.0,129.8 L711.0,131.3 L710.0,132.8 L709.0,134.4 L708.0,136.5 L707.0,139.0 L706.0,141.5 L705.0,143.9 L704.0,146.4 L703.0,148.9 L702.0,150.7 L701.0,151.7 L700.0,154.5 L699.0,157.5 L698.0,158.9 L697.0,160.1 L696.0,161.4 L695.0,162.6 L694.0,163.8 L693.0,164.8 L692.0,165.0 L691.0,165.3 L690.0,165.5 L689.0,165.8 L688.0,166.0 L687.0,166.5 L686.0,167.0 L685.0,167.5 L684.0,168.0 L683.0,168.5 L682.0,168.8 L681.0,168.3 L680.0,167.8 L679.0,167.3 L678.0,166.8 L677.0,166.3 L676.0,165.6 L675.0,164.8 L674.0,164.1 L673.0,163.3 L672.0,162.6 L671.0,161.8 L670.0,161.3 L669.0,160.8 L668.0,160.3 L667.0,159.7 L666.0,159.2 L665.0,158.7 L664.0,160.4 L663.0,162.3 L662.0,164.9 L661.0,167.0 L660.0,168.6 L659.0,170.3 L658.0,172.5 L657.0,174.9 L656.0,177.3 L655.0,179.9 L654.0,182.5 L653.0,185.1 L652.0,187.7 L651.0,190.3 L650.0,192.9 L649.0,195.3 L648.0,197.7 L647.0,199.7 L646.0,200.7 L645.0,201.6 L644.0,204.0 L643.0,206.5 L642.0,208.4 L641.0,208.7 L640.0,209.1 L639.0,209.4 L638.0,209.8 L637.0,210.1 L636.0,210.4 L635.0,210.7 L634.0,211.0 L633.0,211.3 L632.0,211.6 L631.0,211.9 L630.0,212.1 L629.0,212.5 L628.0,212.9 L627.0,213.2 L626.0,213.6 L625.0,214.0 L624.0,215.4 L623.0,216.8 L622.0,218.5 L621.0,220.9 L620.0,223.3 L619.0,225.7 L618.0,228.1 L617.0,230.5 L616.0,232.9 L615.0,235.4 L614.0,237.8 L613.0,240.3 L612.0,243.4 L611.0,245.8 L610.0,247.4 L609.0,249.1 L608.0,250.8 L607.0,252.8 L606.0,257.5 L605.0,261.4 L604.0,261.8 L603.0,262.2 L602.0,262.6 L601.0,263.0 L600.0,263.4 L599.0,263.8 L598.0,264.6 L597.0,265.3 L596.0,265.9 L595.0,266.5 L594.0,267.1 L593.0,267.7 L592.0,268.3 L591.0,268.9 L590.0,269.5 L589.0,270.1 L588.0,270.7 L587.0,271.5 L586.0,272.0 L585.0,272.4 L584.0,272.8 L583.0,273.2 L582.0,273.8 L581.0,274.2 L580.0,274.8 L579.0,275.2 L578.0,275.8 L577.0,276.2 L576.0,276.5 L575.0,276.8 L574.0,277.2 L573.0,277.5 L572.0,277.8 L571.0,277.9 L570.0,278.1 L569.0,278.2 L568.0,278.3 L567.0,278.5 L566.0,278.5 L565.0,278.5 L564.0,278.5 L563.0,278.5 L562.0,278.5 L561.0,278.5 L560.0,278.5 L559.0,278.5 L558.0,278.5 L557.0,278.5 L556.0,278.5 L555.0,278.4 L554.0,278.4 L553.0,278.4 L552.0,278.4 L551.0,278.3 L550.0,278.2 L549.0,278.0 L548.0,278.1 L547.0,279.1 L546.0,280.1 L545.0,281.1 L544.0,282.2 L543.0,282.1 L542.0,280.5 L541.0,278.8 L540.0,277.2 L539.0,275.2 L538.0,273.1 L537.0,270.9 L536.0,268.8 L535.0,264.6 L534.0,260.3 L533.0,256.1 L532.0,250.1 L531.0,242.2 L530.0,234.4 L529.0,229.1 L528.0,226.4 L527.0,223.7 L526.0,221.0 L525.0,218.5 L524.0,218.0 L523.0,217.5 L522.0,217.0 L521.0,216.5 L520.0,216.0 L519.0,215.4 L518.0,214.4 L517.0,213.4 L516.0,212.4 L515.0,211.4 L514.0,210.4 L513.0,209.1 L512.0,207.1 L511.0,205.2 L510.0,203.2 L509.0,201.2 L508.0,199.3 L507.0,197.2 L506.0,194.7 L505.0,192.2 L504.0,189.7 L503.0,187.2 L502.0,184.7 L501.0,182.5 L500.0,180.6 L499.0,178.7 L498.0,176.9 L497.0,175.0 L496.0,174.4 L495.0,173.8 L494.0,173.2 L493.0,172.8 L492.0,173.8 L491.0,174.8 L490.0,173.3 L489.0,171.8 L488.0,172.3 L487.0,173.0 L486.0,173.7 L485.0,176.2 L484.0,179.1 L483.0,179.7 L482.0,179.2 L481.0,178.6 L480.0,177.9 L479.0,177.2 L478.0,177.0 L477.0,177.3 L476.0,177.5 L475.0,177.7 L474.0,177.7 L473.0,177.2 L472.0,176.7 L471.0,176.2 L470.0,175.8 Z" fill="#91bcdc" fill-opacity="0.2" stroke="#91bcdc" stroke-opacity="0.15" stroke-width="0.8"/>
<path d="M469.5,144.5 L470.5,145.0 L471.5,145.4 L472.5,145.9 L473.5,146.2 L474.5,146.8 L475.5,147.4 L476.5,147.9 L477.5,148.5 L478.5,149.2 L479.5,149.8 L480.5,150.4 L481.5,151.1 L482.5,151.7 L483.5,152.3 L484.5,152.8 L485.5,153.3 L486.5,153.8 L487.5,154.3 L488.5,154.7 L489.5,155.0 L490.5,155.4 L491.5,155.8 L492.5,156.5 L493.5,157.5 L494.5,158.5 L495.5,159.5 L496.5,160.5 L497.5,161.5 L498.5,162.7 L499.5,163.9 L500.5,165.1 L501.5,166.3 L502.5,167.5 L503.5,169.3 L504.5,171.1 L505.5,172.9 L506.5,176.5 L507.5,181.9 L508.5,187.4 L509.5,189.9 L510.5,192.3 L511.5,194.8 L512.5,197.3 L513.5,199.8 L514.5,202.3 L515.5,204.9 L516.5,207.1 L517.5,209.2 L518.5,211.1 L519.5,212.5 L520.5,213.8 L521.5,215.1 L522.5,216.1 L523.5,217.1 L524.5,218.0 L525.5,218.7 L526.5,219.3 L527.5,219.8 L528.5,220.3 L529.5,220.8 L530.5,221.1 L531.5,221.5 L532.5,221.8 L533.5,222.1 L534.5,222.1 L535.5,222.1 L536.5,222.1 L537.5,222.1 L538.5,222.3 L539.5,222.6 L540.5,222.8 L541.5,223.1 L542.5,223.6 L543.5,223.4 L544.5,223.1 L545.5,222.7 L546.5,222.4 L547.5,222.0 L548.5,221.7 L549.5,221.3 L550.5,221.0 L551.5,220.6 L552.5,220.3 L553.5,219.9 L554.5,219.7 L555.5,219.5 L556.5,219.4 L557.5,219.2 L558.5,219.1 L559.5,218.8 L560.5,218.5 L561.5,218.1 L562.5,217.8 L563.5,217.4 L564.5,217.1 L565.5,216.8 L566.5,216.5 L567.5,216.2 L568.5,215.9 L569.5,215.6 L570.5,215.2 L571.5,214.8 L572.5,214.5 L573.5,214.1 L574.5,214.0 L575.5,213.8 L576.5,213.7 L577.5,213.5 L578.5,213.4 L579.5,213.2 L580.5,213.0 L581.5,212.8 L582.5,212.6 L583.5,212.4 L584.5,212.4 L585.5,212.4 L586.5,212.4 L587.5,212.4 L588.5,212.4 L589.5,212.4 L590.5,212.4 L591.5,212.4 L592.5,212.4 L593.5,212.4 L594.5,212.6 L595.5,212.8 L596.5,212.9 L597.5,212.9 L598.5,212.9 L599.5,212.9 L600.5,212.9 L601.5,212.9 L602.5,212.9 L603.5,212.9 L604.5,212.9 L605.5,212.9 L606.5,213.0 L607.5,213.1 L608.5,213.1 L609.5,213.2 L610.5,213.3 L611.5,213.3 L612.5,213.4 L613.5,213.5 L614.5,213.5 L615.5,213.6 L616.5,213.7 L617.5,213.8 L618.5,213.9 L619.5,214.0 L620.5,214.0 L621.5,214.1 L622.5,214.3 L623.5,214.5 L624.5,214.8 L625.5,215.0 L626.5,215.1 L627.5,215.0 L628.5,214.9 L629.5,214.7 L630.5,214.5 L631.5,214.3 L632.5,214.1 L633.5,213.9 L634.5,213.7 L635.5,213.6 L636.5,213.5 L637.5,213.4 L638.5,213.3 L639.5,213.2 L640.5,213.0 L641.5,212.9 L642.5,212.8 L643.5,212.8 L644.5,212.8 L645.5,212.8 L646.5,212.8 L647.5,212.8 L648.5,212.8 L649.5,212.8 L650.5,212.8 L651.5,212.8 L652.5,212.7 L653.5,212.7 L654.5,212.6 L655.5,212.6 L656.5,212.6 L657.5,212.6 L658.5,212.6 L659.5,212.6 L660.5,212.6 L661.5,212.6 L662.5,212.6 L663.5,212.5 L664.5,212.1 L665.5,211.7 L666.5,211.3 L667.5,210.9 L668.5,210.5 L669.5,209.9 L670.5,209.3 L671.5,208.8 L672.5,208.2 L673.5,207.6 L674.5,207.0 L675.5,206.4 L676.5,205.8 L677.5,205.2 L678.5,204.6 L679.5,204.0 L680.5,203.4 L681.5,202.8 L682.5,202.2 L683.5,201.6 L684.5,201.0 L685.5,200.4 L686.5,199.7 L687.5,199.1 L688.5,198.5 L689.5,197.9 L690.5,197.5 L691.5,197.1 L692.5,196.7 L693.5,196.3 L694.5,195.9 L695.5,195.6 L696.5,195.2 L697.5,195.1 L698.5,195.1 L699.5,195.1 L700.5,195.1 L701.5,195.1 L702.5,195.1 L703.5,195.1 L704.5,195.1 L705.5,195.1 L706.5,195.1 L707.5,195.1 L708.5,195.1 L709.5,195.1 L710.5,195.1 L711.5,195.1 L712.5,195.1 L713.5,195.1 L714.5,195.2 L715.5,195.3 L716.5,195.4 L717.5,195.5 L718.5,195.7 L719.5,195.8 L720.5,195.5 L721.5,195.2 L722.5,194.9 L723.5,194.7 L724.5,194.4 L725.5,194.2 L726.5,194.0 L727.5,193.7 L728.5,193.7 L729.5,193.7 L730.5,193.7 L731.5,193.7 L732.5,193.7 L732.5,200.9 L731.5,201.2 L730.5,201.5 L729.5,201.8 L728.5,202.2 L727.5,202.5 L726.5,202.9 L725.5,202.9 L724.5,202.9 L723.5,202.9 L722.5,202.9 L721.5,202.9 L720.5,202.9 L719.5,202.9 L718.5,202.9 L717.5,202.9 L716.5,202.9 L715.5,202.9 L714.5,202.7 L713.5,202.5 L712.5,202.3 L711.5,202.1 L710.5,201.9 L709.5,201.8 L708.5,201.7 L707.5,201.5 L706.5,201.4 L705.5,201.6 L704.5,201.9 L703.5,202.3 L702.5,202.7 L701.5,203.1 L700.5,203.5 L699.5,203.9 L698.5,204.5 L697.5,205.1 L696.5,205.7 L695.5,206.4 L694.5,207.0 L693.5,207.6 L692.5,208.2 L691.5,208.8 L690.5,209.4 L689.5,210.0 L688.5,210.6 L687.5,211.2 L686.5,211.8 L685.5,212.4 L684.5,213.0 L683.5,213.6 L682.5,214.2 L681.5,214.8 L680.5,215.3 L679.5,215.9 L678.5,216.5 L677.5,216.9 L676.5,217.3 L675.5,217.7 L674.5,218.1 L673.5,218.5 L672.5,218.9 L671.5,219.1 L670.5,219.1 L669.5,219.1 L668.5,219.1 L667.5,219.1 L666.5,219.1 L665.5,219.1 L664.5,219.1 L663.5,219.1 L662.5,219.1 L661.5,219.1 L660.5,219.0 L659.5,218.9 L658.5,218.9 L657.5,218.8 L656.5,218.8 L655.5,218.8 L654.5,218.8 L653.5,218.8 L652.5,218.8 L651.5,218.9 L650.5,219.0 L649.5,219.2 L648.5,219.3 L647.5,219.4 L646.5,219.5 L645.5,219.6 L644.5,219.7 L643.5,219.9 L642.5,220.1 L641.5,220.3 L640.5,220.5 L639.5,220.7 L638.5,220.9 L637.5,221.0 L636.5,221.1 L635.5,221.3 L634.5,221.4 L633.5,221.6 L632.5,221.6 L631.5,221.6 L630.5,221.6 L629.5,221.6 L628.5,221.6 L627.5,221.6 L626.5,221.6 L625.5,221.6 L624.5,221.6 L623.5,221.6 L622.5,221.6 L621.5,221.6 L620.5,221.6 L619.5,221.6 L618.5,221.6 L617.5,221.5 L616.5,221.3 L615.5,221.0 L614.5,220.8 L613.5,220.5 L612.5,220.3 L611.5,220.1 L610.5,220.0 L609.5,220.0 L608.5,219.9 L607.5,219.8 L606.5,219.7 L605.5,219.6 L604.5,219.5 L603.5,219.5 L602.5,219.4 L601.5,219.3 L600.5,219.3 L599.5,219.3 L598.5,219.4 L597.5,219.4 L596.5,219.4 L595.5,219.4 L594.5,219.4 L593.5,219.4 L592.5,219.4 L591.5,219.4 L590.5,219.4 L589.5,219.4 L588.5,219.4 L587.5,219.5 L586.5,219.7 L585.5,219.8 L584.5,220.0 L583.5,220.1 L582.5,220.5 L581.5,220.8 L580.5,221.2 L579.5,221.6 L578.5,221.9 L577.5,222.2 L576.5,222.5 L575.5,222.8 L574.5,223.1 L573.5,223.4 L572.5,223.8 L571.5,224.1 L570.5,224.5 L569.5,224.8 L568.5,225.1 L567.5,225.2 L566.5,225.4 L565.5,225.5 L564.5,225.7 L563.5,225.9 L562.5,226.3 L561.5,226.6 L560.5,227.0 L559.5,227.3 L558.5,227.7 L557.5,228.0 L556.5,228.4 L555.5,228.7 L554.5,229.1 L553.5,229.4 L552.5,229.7 L551.5,230.0 L550.5,230.3 L549.5,230.6 L548.5,230.6 L547.5,230.6 L546.5,230.6 L545.5,230.6 L544.5,230.6 L543.5,230.6 L542.5,230.6 L541.5,230.6 L540.5,230.6 L539.5,230.6 L538.5,230.6 L537.5,230.6 L536.5,230.6 L535.5,230.6 L534.5,230.5 L533.5,230.0 L532.5,229.6 L531.5,229.1 L530.5,228.8 L529.5,228.6 L528.5,228.3 L527.5,228.2 L526.5,228.2 L525.5,228.2 L524.5,228.2 L523.5,228.1 L522.5,227.8 L521.5,227.5 L520.5,227.1 L519.5,226.8 L518.5,226.3 L517.5,225.8 L516.5,225.3 L515.5,224.7 L514.5,224.0 L513.5,223.2 L512.5,222.5 L511.5,221.4 L510.5,220.0 L509.5,218.5 L508.5,217.1 L507.5,215.2 L506.5,213.1 L505.5,210.9 L504.5,208.3 L503.5,205.8 L502.5,203.3 L501.5,200.8 L500.5,198.3 L499.5,195.9 L498.5,193.4 L497.5,190.9 L496.5,188.4 L495.5,185.9 L494.5,183.9 L493.5,181.9 L492.5,179.9 L491.5,177.9 L490.5,175.9 L489.5,173.9 L488.5,171.9 L487.5,170.0 L486.5,168.6 L485.5,167.3 L484.5,166.2 L483.5,165.0 L482.5,164.0 L481.5,163.4 L480.5,162.7 L479.5,162.0 L478.5,161.4 L477.5,160.8 L476.5,160.2 L475.5,159.5 L474.5,158.9 L473.5,158.3 L472.5,157.7 L471.5,157.1 L470.5,156.4 L469.5,155.8 Z" fill="#8974fa" fill-opacity="0.2" stroke="#8974fa" stroke-opacity="0.15" stroke-width="0.8"/>
<path d="M468.0,154.3 C468.1,154.3 467.9,154.2 468.6,154.5 C469.3,154.8 471.2,155.4 472.3,156.0 C473.4,156.6 474.4,157.4 475.4,158.1 C476.4,158.8 477.5,159.7 478.5,160.2 C479.5,160.7 480.7,161.3 481.6,161.3 C482.6,161.3 483.5,161.0 484.2,160.2 C484.9,159.4 485.2,157.4 485.8,156.5 C486.4,155.6 487.0,155.2 487.9,155.0 C488.8,154.8 490.0,155.3 491.0,155.5 C492.0,155.7 493.1,155.7 494.1,156.0 C495.2,156.3 496.4,156.7 497.3,157.1 C498.2,157.5 498.6,157.9 499.3,158.6 C500.0,159.3 500.5,160.0 501.4,161.3 C502.3,162.6 503.7,165.1 504.5,166.5 C505.3,167.9 505.5,168.4 506.0,169.6 C506.5,170.8 506.6,172.1 507.3,173.6 C508.0,175.1 509.2,177.2 510.2,178.8 C511.2,180.4 512.1,181.7 513.2,183.2 C514.3,184.7 515.8,186.1 516.9,187.6 C518.0,189.1 518.8,191.1 519.8,192.0 C520.8,192.9 521.8,192.4 522.8,192.8 C523.8,193.2 524.9,193.2 525.7,194.2 C526.6,195.2 527.3,196.5 527.9,198.7 C528.5,200.9 528.6,204.6 529.4,207.5 C530.1,210.4 531.5,212.1 532.4,215.9 C533.3,219.7 534.1,226.4 534.9,230.5 C535.7,234.6 536.5,237.4 537.3,240.2 C538.1,243.0 538.9,244.7 539.7,247.5 C540.5,250.3 541.3,254.7 542.2,257.2 C543.1,259.7 544.2,260.1 545.0,262.3 C545.8,264.5 546.2,268.7 547.1,270.6 C548.0,272.5 548.8,273.0 550.2,273.7 C551.6,274.4 553.5,274.6 555.4,274.8 C557.3,275.0 559.8,275.1 561.7,275.0 C563.6,274.9 565.2,274.7 566.9,274.3 C568.6,273.9 570.4,273.4 572.1,272.7 C573.8,272.0 575.6,271.0 577.3,270.1 C579.0,269.2 580.8,268.4 582.5,267.5 C584.2,266.6 586.0,265.4 587.7,264.4 C589.4,263.3 591.3,262.3 592.9,261.2 C594.5,260.1 595.9,259.0 597.1,257.6 C598.3,256.2 599.2,254.7 600.2,252.9 C601.2,251.1 602.2,248.6 603.3,246.7 C604.3,244.8 605.7,243.1 606.5,241.5 C607.3,239.9 606.9,239.7 607.9,237.0 C608.9,234.3 611.0,229.3 612.6,225.5 C614.2,221.7 615.8,217.1 617.4,214.1 C619.0,211.1 620.3,209.3 622.2,207.4 C624.1,205.5 627.0,203.2 628.9,202.6 C630.8,202.0 632.1,204.1 633.7,203.6 C635.3,203.1 637.0,201.0 638.4,199.7 C639.8,198.4 641.2,197.7 642.3,195.9 C643.4,194.2 644.1,191.6 645.1,189.2 C646.1,186.8 647.0,184.1 648.0,181.6 C649.0,179.1 649.9,176.4 650.9,174.0 C651.9,171.6 652.8,169.2 653.7,167.3 C654.7,165.4 655.6,164.6 656.6,162.5 C657.6,160.4 658.5,157.2 659.5,154.8 C660.5,152.4 661.4,149.5 662.3,148.2 C663.2,146.9 664.0,147.2 665.0,147.2 C666.0,147.2 667.3,148.3 668.3,148.1 C669.3,147.9 669.9,146.3 671.1,146.1 C672.3,145.9 673.9,145.9 675.3,146.7 C676.7,147.5 678.0,149.5 679.4,150.8 C680.8,152.1 682.2,154.2 683.6,154.4 C685.0,154.6 686.2,152.3 687.8,151.7 C689.4,151.1 691.7,151.6 693.3,150.8 C694.9,150.0 696.3,148.5 697.5,146.7 C698.7,144.8 699.4,142.0 700.3,139.7 C701.2,137.4 702.2,134.9 703.1,132.8 C704.0,130.7 704.6,129.1 705.8,127.2 C706.9,125.3 708.8,123.6 710.0,121.7 C711.2,119.8 711.6,117.9 712.8,116.1 C713.9,114.2 715.5,112.2 716.9,110.6 C718.3,109.0 719.5,107.2 721.1,106.4 C722.7,105.6 725.1,105.9 726.7,105.6 C728.3,105.3 729.8,104.5 730.8,104.4 C731.8,104.3 732.4,104.9 732.7,105.0" fill="none" stroke="#91bcdc" stroke-width="3.5" stroke-linejoin="round" stroke-linecap="butt"/>
<path d="M468.0,149.0 C468.1,149.1 467.9,148.9 468.6,149.3 C469.3,149.7 471.0,150.6 472.3,151.4 C473.6,152.2 475.0,153.1 476.4,154.0 C477.8,154.9 479.2,155.7 480.6,156.6 C482.0,157.5 483.6,158.4 484.8,159.2 C486.0,160.0 486.9,160.4 487.9,161.3 C488.9,162.2 490.2,163.9 491.0,164.9 C491.8,165.9 491.9,165.9 492.6,167.1 C493.3,168.3 494.3,170.6 495.2,172.3 C496.1,174.0 496.9,175.8 497.8,177.5 C498.7,179.2 499.6,181.0 500.4,182.7 C501.2,184.4 501.8,186.2 502.5,187.9 C503.2,189.6 503.9,191.4 504.6,193.1 C505.3,194.8 506.0,196.6 506.7,198.3 C507.4,200.0 508.1,201.8 508.8,203.5 C509.5,205.2 510.0,206.9 510.8,208.7 C511.6,210.4 512.4,212.2 513.4,214.0 C514.4,215.8 515.9,217.9 517.1,219.2 C518.3,220.5 519.4,221.1 520.6,221.8 C521.8,222.6 522.9,223.1 524.2,223.7 C525.6,224.3 527.3,225.0 528.7,225.2 C530.1,225.4 531.3,225.0 532.5,225.1 C533.7,225.2 534.8,225.5 536.0,225.9 C537.2,226.3 538.3,227.3 539.7,227.6 C541.1,227.9 543.0,227.8 544.6,227.6 C546.2,227.3 547.8,226.6 549.4,226.1 C551.0,225.6 552.7,225.0 554.3,224.4 C555.9,223.8 557.6,223.1 559.2,222.7 C560.8,222.3 562.4,222.4 564.0,222.0 C565.6,221.6 567.3,220.8 568.9,220.3 C570.5,219.8 572.2,219.3 573.8,218.8 C575.4,218.3 577.0,217.5 578.6,217.1 C580.2,216.7 581.9,216.7 583.5,216.4 C585.1,216.1 586.7,215.4 588.3,215.4 C589.9,215.4 591.2,216.3 593.2,216.4 C595.2,216.5 596.9,215.9 600.0,215.9 C603.1,215.9 608.8,216.5 611.7,216.7 C614.6,216.9 615.4,216.9 617.2,217.2 C619.1,217.5 620.9,218.4 622.8,218.6 C624.6,218.8 626.4,218.7 628.3,218.6 C630.1,218.5 632.0,218.1 633.9,217.8 C635.8,217.5 637.1,217.0 639.4,216.7 C641.7,216.4 645.0,216.0 647.8,215.8 C650.6,215.7 654.1,215.8 656.1,215.8 C658.1,215.8 658.2,215.6 660.0,215.6 C661.8,215.6 664.6,216.5 666.9,216.1 C669.2,215.7 671.6,214.5 673.9,213.3 C676.2,212.2 678.5,210.6 680.8,209.2 C683.1,207.8 685.5,206.4 687.8,205.0 C690.1,203.6 692.4,202.0 694.7,200.8 C697.0,199.7 699.4,198.6 701.7,198.1 C704.0,197.6 706.3,198.0 708.6,198.1 C710.9,198.2 713.5,198.6 715.6,198.9 C717.7,199.2 719.2,200.1 721.1,200.0 C723.0,199.9 724.8,198.7 726.7,198.1 C728.6,197.5 731.7,196.9 732.7,196.7" fill="none" stroke="#8974fa" stroke-width="3.5" stroke-linejoin="round" stroke-linecap="butt"/>
</g>
<line x1="467.9" y1="72.7" x2="732.7" y2="72.7" stroke="#111" stroke-width="1.25" stroke-linecap="square"/>
<line x1="467.9" y1="303.5" x2="732.7" y2="303.5" stroke="#000" stroke-width="1.3" stroke-linecap="square"/>
<line x1="732.7" y1="72.7" x2="732.7" y2="303.5" stroke="#000" stroke-width="1.3" stroke-linecap="square"/>
<line x1="467.9" y1="72.7" x2="467.9" y2="303.5" stroke="#333" stroke-width="1.2" stroke-linecap="square"/>
<line x1="464.7" y1="303.50" x2="467.9" y2="303.50" stroke="#444" stroke-width="1.2"/>
<text x="435.83" y="310.50" font-size="20" textLength="25.75" lengthAdjust="spacingAndGlyphs" class="t c2">0.0</text>
<line x1="464.7" y1="233.43" x2="467.9" y2="233.43" stroke="#444" stroke-width="1.2"/>
<text x="436.19" y="240.43" font-size="20" textLength="25.75" lengthAdjust="spacingAndGlyphs" class="t c2">0.2</text>
<line x1="464.7" y1="163.36" x2="467.9" y2="163.36" stroke="#444" stroke-width="1.2"/>
<text x="435.37" y="170.36" font-size="20" textLength="25.75" lengthAdjust="spacingAndGlyphs" class="t c2">0.4</text>
<line x1="464.7" y1="93.29" x2="467.9" y2="93.29" stroke="#444" stroke-width="1.2"/>
<text x="435.66" y="100.29" font-size="20" textLength="25.75" lengthAdjust="spacingAndGlyphs" class="t c2">0.6</text>
<line x1="467.90" y1="303.5" x2="467.90" y2="306.7" stroke="#444" stroke-width="1.2"/>
<text x="462.75" y="323.80" font-size="20" textLength="10.30" lengthAdjust="spacingAndGlyphs" class="t c2">0</text>
<line x1="534.10" y1="303.5" x2="534.10" y2="306.7" stroke="#444" stroke-width="1.2"/>
<text x="518.65" y="323.80" font-size="20" textLength="30.90" lengthAdjust="spacingAndGlyphs" class="t c2">500</text>
<line x1="600.30" y1="303.5" x2="600.30" y2="306.7" stroke="#444" stroke-width="1.2"/>
<text x="579.70" y="323.80" font-size="20" textLength="41.20" lengthAdjust="spacingAndGlyphs" class="t c2">1000</text>
<line x1="666.50" y1="303.5" x2="666.50" y2="306.7" stroke="#444" stroke-width="1.2"/>
<text x="645.90" y="323.80" font-size="20" textLength="41.20" lengthAdjust="spacingAndGlyphs" class="t c2">1500</text>
<line x1="732.70" y1="303.5" x2="732.70" y2="306.7" stroke="#444" stroke-width="1.2"/>
<text x="712.10" y="323.80" font-size="20" textLength="41.20" lengthAdjust="spacingAndGlyphs" class="t c2">2000</text>
<text x="533.58" y="347.20" font-size="22" textLength="134.05" lengthAdjust="spacingAndGlyphs" class="t c2">Gradient Steps</text>
<text x="0" y="0" font-size="22" textLength="136.58" lengthAdjust="spacingAndGlyphs" transform="translate(426.70,256.77) rotate(-90)" class="t c2">Policy Entropy</text>
<text x="20.83" y="429.90" font-size="34" textLength="87.84" lengthAdjust="spacingAndGlyphs" class="t c">Figure</text>
<text x="121.42" y="429.90" font-size="34" textLength="27.89" lengthAdjust="spacingAndGlyphs" class="t c">5:</text>
<text x="167.49" y="429.90" font-size="34" textLength="115.44" lengthAdjust="spacingAndGlyphs" class="t c">Training</text>
<text x="296.67" y="429.90" font-size="34" textLength="130.77" lengthAdjust="spacingAndGlyphs" class="t c">dynamics</text>
<text x="440.09" y="429.90" font-size="34" textLength="168.57" lengthAdjust="spacingAndGlyphs" class="t c">comparison.</text>
<text x="630.21" y="429.90" font-size="34" textLength="129.80" lengthAdjust="spacingAndGlyphs" class="t c">DynaMO</text>
<text x="21.09" y="470.60" font-size="34" textLength="132.14" lengthAdjust="spacingAndGlyphs" class="t c">maintains</text>
<text x="166.70" y="470.60" font-size="34" textLength="79.89" lengthAdjust="spacingAndGlyphs" class="t c">stable</text>
<text x="259.25" y="470.60" font-size="34" textLength="110.55" lengthAdjust="spacingAndGlyphs" class="t c">gradient</text>
<text x="384.23" y="470.60" font-size="34" textLength="84.39" lengthAdjust="spacingAndGlyphs" class="t c">norms</text>
<text x="482.23" y="470.60" font-size="34" textLength="47.87" lengthAdjust="spacingAndGlyphs" class="t c">and</text>
<text x="543.91" y="470.60" font-size="34" textLength="99.53" lengthAdjust="spacingAndGlyphs" class="t c">smooth</text>
<text x="655.77" y="470.60" font-size="34" textLength="103.76" lengthAdjust="spacingAndGlyphs" class="t c">entropy</text>
<text x="20.49" y="510.90" font-size="34" textLength="134.92" lengthAdjust="spacingAndGlyphs" class="t c">evolution,</text>
<text x="165.47" y="510.90" font-size="34" textLength="73.48" lengthAdjust="spacingAndGlyphs" class="t c">while</text>
<text x="246.81" y="510.90" font-size="34" textLength="90.28" lengthAdjust="spacingAndGlyphs" class="t c">GRPO</text>
<text x="344.58" y="510.90" font-size="34" textLength="106.94" lengthAdjust="spacingAndGlyphs" class="t c">exhibits</text>
<text x="460.93" y="510.90" font-size="34" textLength="85.23" lengthAdjust="spacingAndGlyphs" class="t c">severe</text>
<text x="554.65" y="510.90" font-size="34" textLength="82.24" lengthAdjust="spacingAndGlyphs" class="t c">spikes</text>
<text x="646.04" y="510.90" font-size="34" textLength="47.56" lengthAdjust="spacingAndGlyphs" class="t c">and</text>
<text x="703.67" y="510.90" font-size="34" textLength="61.55" lengthAdjust="spacingAndGlyphs" class="t c">ﬂuc-</text>
<text x="22.18" y="551.00" font-size="34" textLength="112.90" lengthAdjust="spacingAndGlyphs" class="t c">tuations.</text>
<text x="145.45" y="551.00" font-size="34" textLength="99.06" lengthAdjust="spacingAndGlyphs" class="t c">Shaded</text>
<text x="253.93" y="551.00" font-size="34" textLength="98.27" lengthAdjust="spacingAndGlyphs" class="t c">regions</text>
<text x="362.10" y="551.00" font-size="34" textLength="67.14" lengthAdjust="spacingAndGlyphs" class="t c">show</text>
<text x="439.96" y="551.00" font-size="34" textLength="47.68" lengthAdjust="spacingAndGlyphs" class="t c">raw</text>
<text x="498.48" y="551.00" font-size="34" textLength="56.28" lengthAdjust="spacingAndGlyphs" class="t c">data</text>
<text x="563.92" y="551.00" font-size="34" textLength="83.40" lengthAdjust="spacingAndGlyphs" class="t c">range.</text>
</svg>
</body></html>
